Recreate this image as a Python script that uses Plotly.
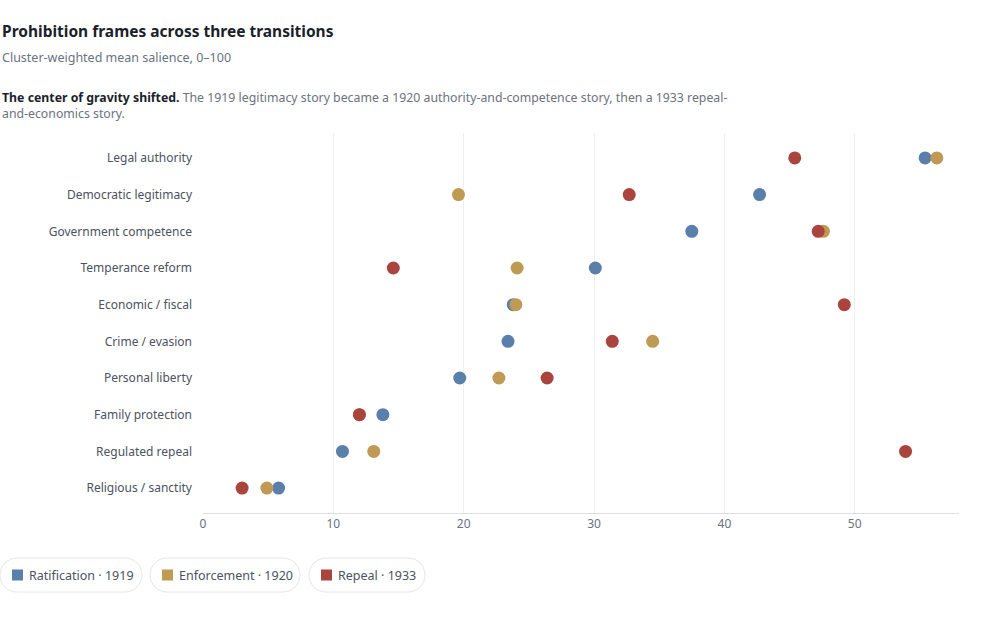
import plotly.graph_objects as go

# Frames (top to bottom) and mean salience per transition
frames = [
    "Legal authority",
    "Democratic legitimacy",
    "Government competence",
    "Temperance reform",
    "Economic / fiscal",
    "Crime / evasion",
    "Personal liberty",
    "Family protection",
    "Regulated repeal",
    "Religious / sanctity",
]
ratification_1919 = [55.4, 42.7, 37.5, 30.1, 23.8, 23.4, 19.7, 13.8, 10.7, 5.8]
enforcement_1920 = [56.3, 19.6, 47.6, 24.1, 24.0, 34.5, 22.7, 12.0, 13.1, 4.9]
repeal_1933 = [45.4, 32.7, 47.2, 14.6, 49.2, 31.4, 26.4, 12.0, 53.9, 3.0]

series_names = ["Ratification · 1919", "Enforcement · 1920", "Repeal · 1933"]
series_colors = ["#5a7fab", "#bf9a55", "#a9453d"]
x_ticks = [0, 10, 20, 30, 40, 50]

FONT = "Noto Sans"

# plot area in pixels (1000 x 625 page)
L, R, T, B = 203, 959, 133, 513
W, H = 1000, 625


def px_x(px):
    return (px - L) / (R - L)


def px_y(py):
    return (B - py) / (B - T)


def pill_path(hw, r):
    # rounded pill centred on (0, 0), in pixels; arcs as cubic beziers
    k = 0.5523 * r
    a = hw - r
    return (
        f"M {-a},{-r} L {a},{-r} "
        f"C {a + k},{-r} {hw},{-k} {hw},0 "
        f"C {hw},{k} {a + k},{r} {a},{r} "
        f"L {-a},{r} "
        f"C {-a - k},{r} {-hw},{k} {-hw},0 "
        f"C {-hw},{-k} {-a - k},{-r} {-a},{-r} Z"
    )


fig = go.Figure()

for name, vals, color in zip(series_names,
                             [ratification_1919, enforcement_1920, repeal_1933],
                             series_colors):
    fig.add_trace(
        go.Scatter(
            x=vals,
            y=frames,
            mode="markers",
            name=name,
            marker=dict(size=13, color=color, line=dict(width=0)),
            showlegend=False,
            hovertemplate="%{y}: %{x:.1f}<extra>" + name + "</extra>",
        )
    )

# header text
fig.add_annotation(
    x=px_x(0), y=px_y(31), xref="paper", yref="paper",
    xanchor="left", yanchor="middle", showarrow=False, align="left",
    text="<b>Prohibition frames across three transitions</b>",
    font=dict(family=FONT, size=15.5, color="#1a1f2b"),
)
fig.add_annotation(
    x=px_x(0), y=px_y(58), xref="paper", yref="paper",
    xanchor="left", yanchor="middle", showarrow=False, align="left",
    text="Cluster-weighted mean salience, 0–100",
    font=dict(family=FONT, size=12.5, color="#6b7280"),
)
fig.add_annotation(
    x=px_x(0), y=px_y(105), xref="paper", yref="paper",
    xanchor="left", yanchor="middle", showarrow=False, align="left",
    text=("<b><span style='color:#1a1f2b'>The center of gravity shifted.</span></b> "
          "The 1919 legitimacy story became a 1920 authority-and-competence story, then a 1933 repeal-"
          "<br>and-economics story."),
    font=dict(family=FONT, size=12.3, color="#6b7280"),
)

# legend pills
pills = [(0, 142), (150, 300), (309, 425)]
for (x0, x1), name, color in zip(pills, series_names, series_colors):
    cy = px_y(575)
    fig.add_shape(
        type="path", path=pill_path((x1 - x0) / 2, 17), xref="paper", yref="paper",
        xsizemode="pixel", ysizemode="pixel",
        xanchor=px_x((x0 + x1) / 2), yanchor=cy,
        line=dict(color="#e3e6ea", width=1), fillcolor="white",
    )
    fig.add_shape(
        type="rect", xref="paper", yref="paper",
        xsizemode="pixel", ysizemode="pixel", xanchor=px_x(x0 + 17.5), yanchor=cy,
        x0=-5.5, x1=5.5, y0=-5.5, y1=5.5,
        line=dict(width=0), fillcolor=color,
    )
    fig.add_annotation(
        x=px_x(x0 + 27), y=cy, xref="paper", yref="paper",
        xanchor="left", yanchor="middle", showarrow=False,
        text=name, font=dict(family=FONT, size=12.5, color="#4b5361"),
    )

fig.update_xaxes(
    range=[0, 58],
    tickvals=x_ticks,
    showgrid=True, gridcolor="#efefef", gridwidth=1,
    zeroline=False,
    showline=True, linecolor="#dcdfe4", linewidth=1,
    ticks="", tickfont=dict(family=FONT, size=12, color="#6b7280"),
    fixedrange=True,
)
fig.update_yaxes(
    type="category",
    categoryorder="array", categoryarray=frames,
    range=[9.68, -0.68],
    showgrid=False, zeroline=False, showline=False,
    ticks="", ticklabelstandoff=10,
    tickfont=dict(family=FONT, size=12, color="#4b5361"),
    fixedrange=True,
)

fig.update_layout(
    width=W, height=H,
    margin=dict(l=L, r=W - R, t=T, b=H - B, autoexpand=False),
    paper_bgcolor="white",
    plot_bgcolor="white",
    font=dict(family=FONT),
    showlegend=False,
)

fig.write_html(
    "out.html",
    config={"displayModeBar": False},
    post_script="document.body.style.margin='0';",
)
